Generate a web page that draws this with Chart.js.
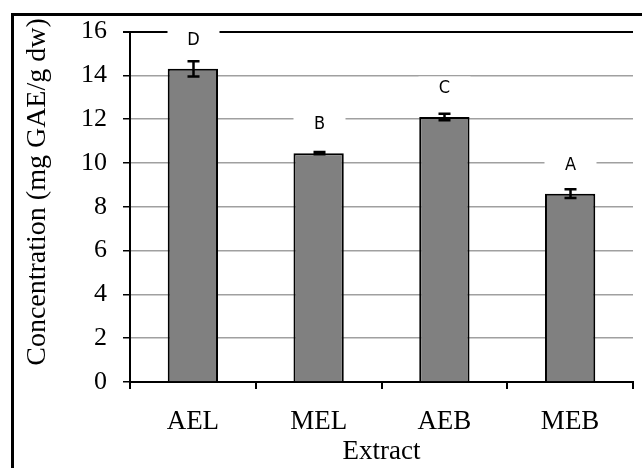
<!DOCTYPE html>
<html>
<head>
<meta charset="utf-8">
<script src="https://cdn.jsdelivr.net/npm/chart.js@4"></script>
<style>
  html, body { margin: 0; padding: 0; background: #fff; overflow: hidden; }
  #wrap { position: relative; width: 642px; height: 468px; }
</style>
</head>
<body>
<div id="wrap"><canvas id="chart"></canvas></div>
<script>
// data
const extracts = ['AEL', 'MEL', 'AEB', 'MEB'];
const concentration = [14.3, 10.45, 12.1, 8.6];
const stdError = [0.35, 0.05, 0.15, 0.2];
const groupLetters = ['D', 'B', 'C', 'A'];
const yTicks = [0, 2, 4, 6, 8, 10, 12, 14, 16];
const yTitle = 'Concentration (mg GAE/g dw)';

const serif = 'Liberation Serif, Times New Roman, serif';

// outer frame (only top and left edges are visible in the crop)
// plus the y title, which sits a bit above the plot centre in the original
const framePlugin = {
  id: 'frame',
  afterDraw(chart) {
    const c = chart.ctx;
    c.save();
    c.strokeStyle = '#000';
    c.lineWidth = 3;
    c.beginPath();
    c.moveTo(12.5, 468);
    c.lineTo(12.5, 14.5);
    c.lineTo(642, 14.5);
    c.stroke();

    c.translate(38, 192);
    c.rotate(-Math.PI / 2);
    c.fillStyle = '#000';
    c.font = '28px ' + serif;
    c.textAlign = 'center';
    c.textBaseline = 'middle';
    c.fillText(yTitle, 0, 0);
    c.restore();
  }
};

// error bars + letters above each bar
const errorPlugin = {
  id: 'errors',
  afterDatasetsDraw(chart) {
    const c = chart.ctx;
    const y = chart.scales.y;
    const meta = chart.getDatasetMeta(0);
    c.save();
    meta.data.forEach((bar, i) => {
      const v = concentration[i], e = stdError[i];
      const yt = y.getPixelForValue(v + e);
      const yb = y.getPixelForValue(v - e);
      const x = Math.round(bar.x) + 0.5;
      c.strokeStyle = '#000';
      c.lineWidth = 2.5;
      c.beginPath();
      c.moveTo(x, yt); c.lineTo(x, yb);
      c.moveTo(x - 6, yt); c.lineTo(x + 6, yt);
      c.moveTo(x - 6, yb); c.lineTo(x + 6, yb);
      c.stroke();

      // letter with white box, sitting above the error bar
      const ly = y.getPixelForValue(v + 1.3);
      c.fillStyle = '#fff';
      c.fillRect(x - 26, ly - 12, 52, 24);
      c.fillStyle = '#000';
      c.font = '18px "DejaVu Sans Condensed", "DejaVu Sans", sans-serif';
      c.textAlign = 'center';
      c.textBaseline = 'middle';
      c.fillText(groupLetters[i], x, ly);
    });
    c.restore();
  }
};

new Chart(document.getElementById('chart'), {
  type: 'bar',
  data: {
    labels: extracts,
    datasets: [{
      data: concentration,
      backgroundColor: '#808080',
      borderColor: '#000',
      borderWidth: 2,
      categoryPercentage: 1,
      barPercentage: 0.4
    }]
  },
  options: {
    responsive: true,
    maintainAspectRatio: false,
    animation: false,
    devicePixelRatio: 1,
    layout: { padding: { left: 0, top: 30, right: 9, bottom: 0 } },
    plugins: {
      legend: { display: false },
      tooltip: { enabled: false }
    },
    scales: {
      x: {
        afterFit: s => { s.height = 86; },
        grid: {
          offset: true,
          drawOnChartArea: true,
          color: ctx => ctx.index === extracts.length ? '#000' : 'rgba(0,0,0,0)',
          lineWidth: 2,
          tickColor: '#000',
          tickLength: 7
        },
        border: { color: '#000', width: 2 },
        ticks: {
          color: '#000',
          font: { family: serif, size: 27 },
          padding: 17
        },
        title: {
          display: true,
          text: 'Extract',
          color: '#000',
          font: { family: serif, size: 27 },
          padding: { top: 0, bottom: 0 }
        }
      },
      y: {
        min: 0,
        max: 16,
        afterFit: s => { s.width = 130; },
        afterBuildTicks: s => { s.ticks = yTicks.map(v => ({ value: v })); },
        grid: {
          color: ctx => ctx.tick && ctx.tick.value === 16 ? '#000' : '#a0a0a0',
          lineWidth: ctx => ctx.tick && ctx.tick.value === 16 ? 2 : 1.5,
          tickColor: '#000',
          tickLength: 7
        },
        border: { color: '#000', width: 2 },
        ticks: {
          color: '#000',
          font: { family: serif, size: 26 },
          padding: 16
        },
        title: { display: false }
      }
    }
  },
  plugins: [framePlugin, errorPlugin]
});
</script>
</body>
</html>
